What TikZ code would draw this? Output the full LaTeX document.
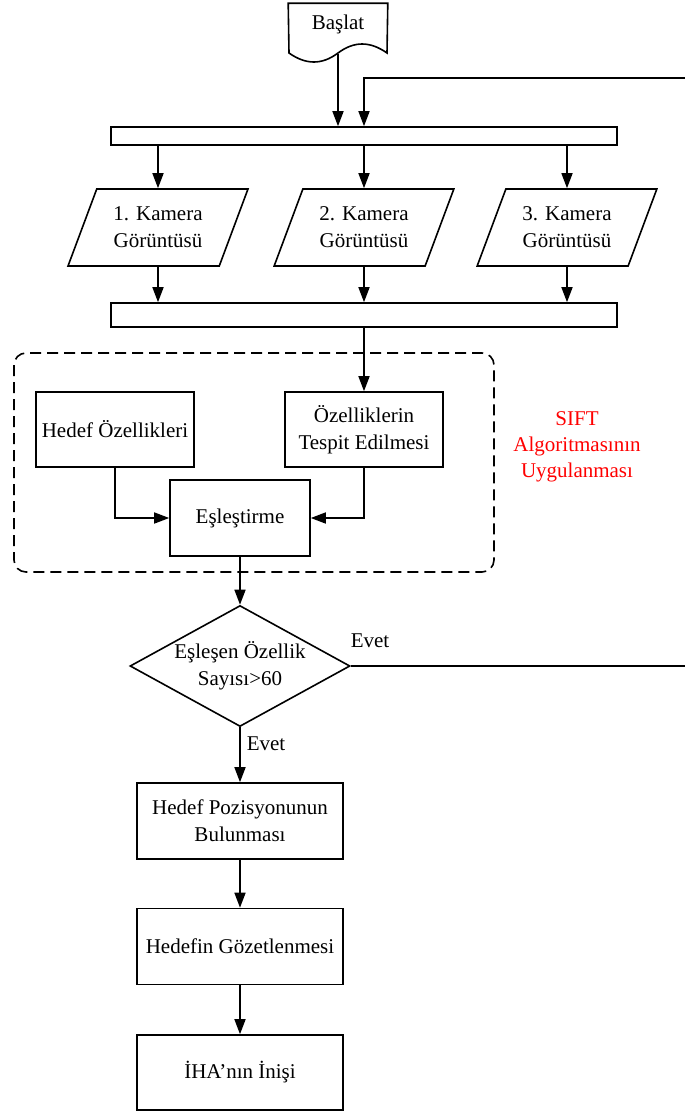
\documentclass[tikz,border=0pt]{standalone}
\usepackage{fontspec}
\setmainfont{Liberation Serif}
\usetikzlibrary{
  arrows.meta,
  positioning,
  shapes.geometric
}

\begin{document}
\begin{tikzpicture}[
            x=1pt, y=-1pt,
            line width=1.6pt,
            font=\fontsize{21}{27}\selectfont,
            box/.style={draw, minimum width=158pt, minimum height=75pt, align=center, inner sep=2pt},
            bigbox/.style={box, minimum width=206pt, minimum height=76pt},
            bar/.style={draw, minimum width=506pt, inner sep=0pt},
            camview/.style={draw, trapezium, trapezium left angle=63, trapezium right angle=117,
                            trapezium stretches=true, minimum width=180pt, minimum height=77pt, align=center, inner sep=0pt},
            check/.style={draw, diamond, aspect=1.82, minimum width=220pt, minimum height=121pt, inner sep=0pt, align=center},
            arr/.style={-{Triangle[length=15pt, width=11pt]}}
        ]
            \useasboundingbox (0,0) rectangle (685,1112);
            % start and camera inputs
            \node[minimum width=98pt, minimum height=40pt, inner sep=0pt] (start) at (338,24) {Başlat};
            \draw (start.north west) -- (start.north east) -- (387,53)
                .. controls (370,41) and (354,41) .. (338,53)
                .. controls (322,65) and (306,65) .. (289,53) -- cycle;
            \node[bar, minimum height=18pt] (bar1) at (364,136) {};
            \node[camview] (cam1) at (158,227.5) {1. Kamera\\Görüntüsü};
            \node[camview] (cam2) at (364,227.5) {2. Kamera\\Görüntüsü};
            \node[camview] (cam3) at (567,227.5) {3. Kamera\\Görüntüsü};
            \node[bar, minimum height=24pt] (bar2) at (364,315) {};
            \coordinate (loopin) at (685,78);
            \coordinate (loopout) at (685,666);
            \draw[arr, shorten <=9pt] (start.south) -- (start.south |- bar1.north);
            \draw[arr] (loopin) -| (bar1.north);
            \foreach \c in {cam1,cam2,cam3} {
                \draw[arr] (\c.north |- bar1.south) -- (\c.north);
                \draw[arr] (\c.south) -- (\c.south |- bar2.north);
            }
            % SIFT block
            \node[box] (target) at (115,429.5) {Hedef Özellikleri};
            \node[box] (detect) at (364,429.5) {Özelliklerin\\Tespit Edilmesi};
            \node[box, minimum width=140pt, minimum height=76pt] (match) at (240,518) {Eşleştirme};
            \draw[dash pattern=on 11pt off 6pt, rounded corners=12pt] (14,353) rectangle (494,572);
            \node[text=red, align=center, font=\fontsize{21}{26}\selectfont] (sift) at (577,447) {SIFT\\Algoritmasının\\Uygulanması};
            \draw[arr] (bar2.south) -- (detect.north);
            \draw[arr] (target.south) |- (match.west);
            \draw[arr] (detect.south) |- (match.east);
            % decision and output
            \node[check] (decision) at (240,666) {Eşleşen Özellik\\Sayısı>60};
            \node (yes1) at (370,641) {Evet};
            \node (yes2) at (266,744) {Evet};
            \node[bigbox] (locate) at (240,821) {Hedef Pozisyonunun\\Bulunması};
            \node[bigbox] (watch) at (240,946.5) {Hedefin Gözetlenmesi};
            \node[bigbox, minimum height=75pt] (land) at (240,1072.5) {İHA’nın İnişi};
            \draw[arr] (match.south) -- (decision.north);
            \draw (decision.east) -- (loopout);
            \draw[arr] (decision.south) -- (locate.north);
            \draw[arr] (locate.south) -- (watch.north);
            \draw[arr] (watch.south) -- (land.north);
        \end{tikzpicture}
\end{document}
